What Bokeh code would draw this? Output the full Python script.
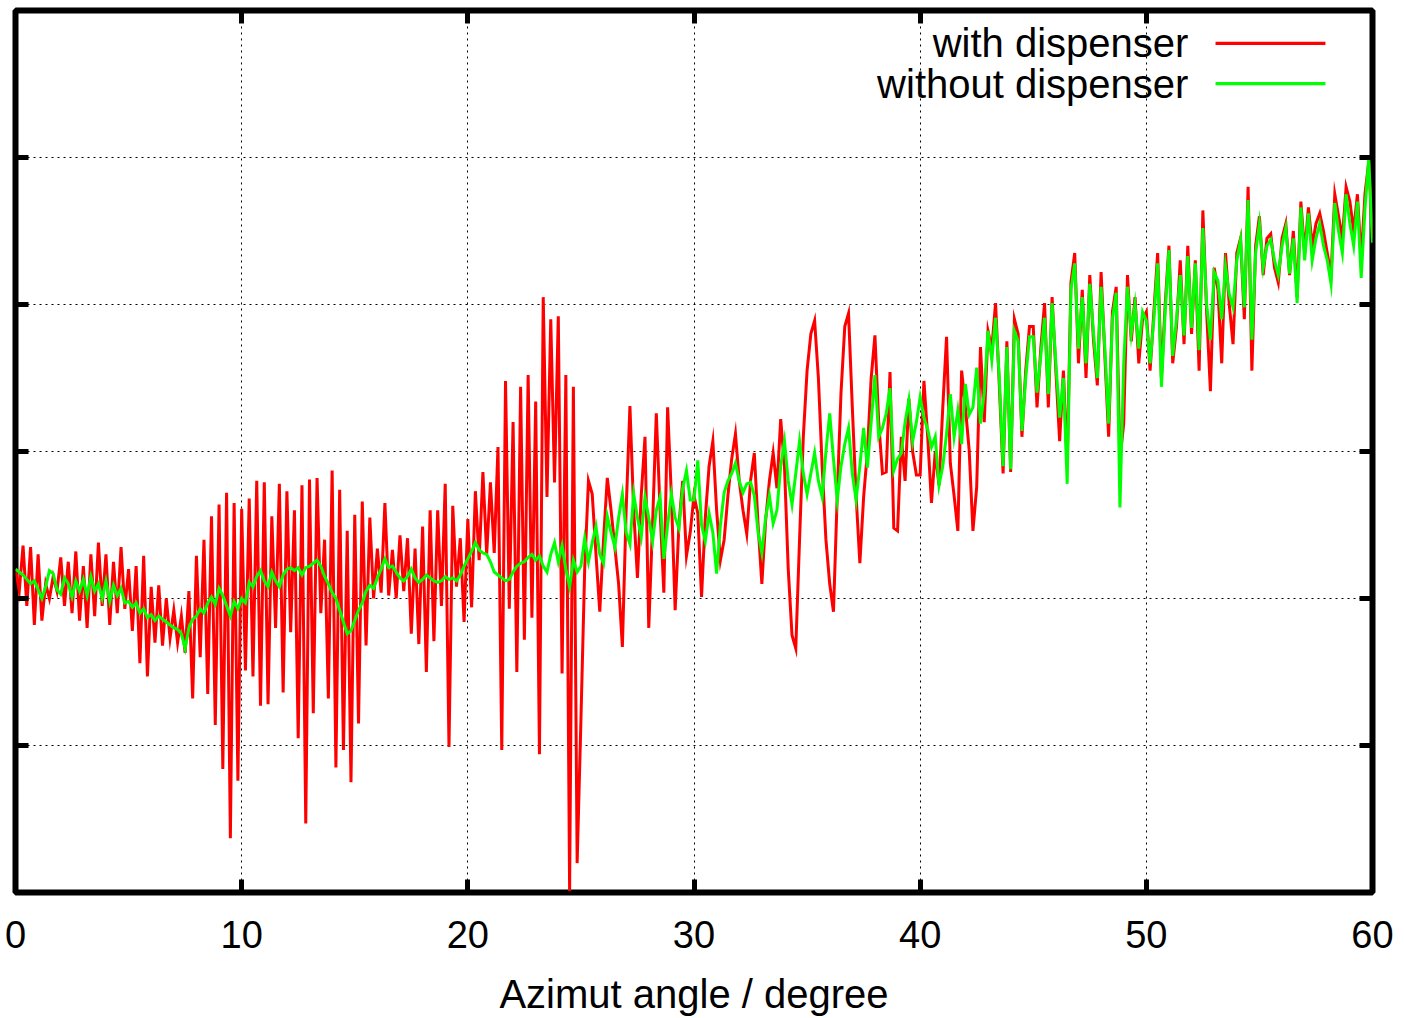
import numpy as np
from bokeh.plotting import figure
from bokeh.models import Range1d, LinearAxis, FixedTicker, Label, BoxAnnotation
from bokeh.embed import file_html
from bokeh.resources import INLINE

red_a = [2.20, 2.05, 2.36, 1.95, 2.35, 1.82, 2.30, 1.85, 2.10, 2.00, 2.15, 2.05, 2.28, 1.95, 2.25,
         1.90, 2.32, 1.85, 2.22, 1.80, 2.30, 1.88, 2.38, 1.95, 2.30, 1.82, 2.25, 1.90, 2.35, 1.93]
red_b = [2.20, 1.78, 2.22, 1.56, 2.29, 1.47, 2.08, 1.70, 2.09, 1.68, 2.00, 1.73, 1.92, 1.70, 1.88,
         1.63, 2.05, 1.32, 2.29, 1.60, 2.40, 1.35, 2.56, 1.14, 2.64, 0.84, 2.72, 0.37, 2.65, 0.76]
red_c = [2.61, 1.51, 2.68, 1.47, 2.80, 1.27, 2.79, 1.28, 2.56, 1.80, 2.78, 1.36, 2.73, 1.77, 2.60,
         1.05, 2.77, 0.47, 2.81, 1.22, 2.82, 1.90, 2.40, 1.32, 2.87, 0.85, 2.74, 0.97, 2.46, 0.75]
red_d = [2.57, 1.15, 2.66, 1.68, 2.55, 2.00, 2.34, 2.04, 2.65, 2.02, 2.33, 2.00, 2.43, 2.05, 2.41,
         1.76, 2.34, 1.69, 2.49, 1.50, 2.60, 1.71, 2.60, 1.95, 2.78, 0.99, 2.63, 2.08, 2.41, 1.84]
red_e = [2.54, 1.94, 2.73, 2.26, 2.86, 2.30, 2.79, 2.31, 3.03, 0.97, 3.48, 1.93, 3.20, 1.50, 3.44,
         1.72, 3.52, 1.87, 3.34, 0.94, 4.05, 2.69, 3.90, 2.79, 3.92, 1.49, 3.52, 0.01, 3.44, 0.20]
red_f = [1.17, 2.20, 2.80, 2.71, 2.30, 1.91, 2.40, 2.82, 2.60, 2.35, 2.10, 1.67, 2.60, 3.31, 2.60,
         2.14, 2.70, 3.10, 1.80, 2.50, 3.26, 2.60, 2.04, 3.30, 2.70, 1.92, 2.50, 2.80, 2.29, 2.45]
red_g = [2.70, 2.58, 2.01, 2.55, 2.90, 3.07, 2.60, 2.26, 2.40, 2.70, 2.95, 3.12, 2.80, 2.60, 2.44,
         2.80, 2.99, 2.50, 2.10, 2.53, 2.80, 2.99, 2.75, 3.22, 2.90, 2.20, 1.75, 1.66, 2.40, 3.10]
red_h = [3.55, 3.80, 3.89, 3.50, 2.90, 2.40, 2.10, 1.91, 2.70, 3.40, 3.85, 3.94, 3.30, 2.70, 2.24,
         2.69, 3.00, 3.50, 3.79, 3.20, 2.85, 2.86, 3.54, 2.48, 2.46, 3.10, 2.80, 3.36, 3.00, 2.84]
red_i = [2.84, 3.48, 3.10, 2.65, 3.00, 2.77, 3.30, 3.78, 2.92, 2.70, 2.46, 3.55, 3.30, 3.01, 2.46,
         2.76, 3.71, 3.20, 3.82, 3.70, 4.01, 3.45, 2.85, 3.75, 2.86, 3.90, 3.80, 3.10, 3.55, 3.85]
red_j = [3.85, 3.30, 3.70, 4.01, 3.30, 4.05, 3.55, 3.07, 3.55, 2.90, 4.15, 4.35, 3.60, 4.10, 3.50,
         4.20, 3.75, 3.45, 4.22, 3.65, 3.10, 3.95, 4.12, 2.95, 3.19, 4.20, 3.75, 4.05, 3.60, 3.90]
red_k = [3.95, 3.55, 3.95, 4.35, 3.50, 4.00, 4.40, 3.60, 3.85, 4.30, 3.73, 4.40, 3.80, 4.30, 3.55,
         4.64, 3.95, 3.41, 4.25, 4.10, 3.60, 4.35, 4.00, 3.73, 4.35, 4.45, 3.90, 4.80, 3.55, 4.40]
red_l = [4.60, 4.20, 4.45, 4.48, 4.25, 4.15, 4.45, 4.55, 4.20, 4.50, 4.05, 4.70, 4.35, 4.66, 4.40,
         4.55, 4.62, 4.50, 4.35, 4.20, 4.75, 4.60, 4.45, 4.80, 4.70, 4.50, 4.75, 4.30, 4.75, 4.97, 4.45]

green_a = [2.20, 2.18, 2.16, 2.13, 2.10, 2.12, 2.06, 2.00, 2.08, 2.19, 2.17, 2.06, 2.03, 2.14, 2.10,
           2.01, 2.12, 2.05, 2.13, 2.02, 2.15, 2.05, 2.10, 2.00, 2.12, 1.98, 2.09, 2.02, 2.07, 1.97]
green_b = [1.98, 1.94, 1.97, 1.90, 1.93, 1.87, 1.89, 1.85, 1.88, 1.86, 1.84, 1.82, 1.80, 1.79, 1.76,
           1.66, 1.80, 1.86, 1.88, 1.93, 1.90, 1.97, 2.01, 1.96, 2.07, 2.02, 1.95, 1.88, 1.98, 1.93]
green_c = [2.00, 1.97, 2.11, 2.08, 2.15, 2.19, 2.12, 2.08, 2.18, 2.12, 2.08, 2.16, 2.20, 2.21, 2.19,
           2.21, 2.16, 2.21, 2.22, 2.24, 2.26, 2.22, 2.15, 2.10, 2.04, 2.00, 1.92, 1.84, 1.76, 1.78]
green_d = [1.85, 1.92, 1.97, 2.05, 2.09, 2.07, 2.14, 2.20, 2.27, 2.21, 2.22, 2.18, 2.14, 2.12, 2.15,
           2.20, 2.14, 2.11, 2.13, 2.16, 2.14, 2.12, 2.11, 2.12, 2.15, 2.13, 2.14, 2.12, 2.16, 2.22]
green_e = [2.27, 2.32, 2.38, 2.33, 2.31, 2.30, 2.25, 2.18, 2.16, 2.14, 2.12, 2.13, 2.18, 2.22, 2.24,
           2.25, 2.28, 2.30, 2.26, 2.29, 2.22, 2.18, 2.30, 2.38, 2.25, 2.36, 2.20, 2.08, 2.26, 2.18]
green_f = [2.22, 2.41, 2.25, 2.38, 2.49, 2.30, 2.24, 2.56, 2.45, 2.35, 2.55, 2.71, 2.45, 2.37, 2.71,
           2.55, 2.42, 2.69, 2.55, 2.39, 2.60, 2.69, 2.27, 2.50, 2.71, 2.55, 2.48, 2.75, 2.87, 2.67]
green_g = [2.67, 2.94, 2.50, 2.39, 2.58, 2.45, 2.17, 2.50, 2.72, 2.80, 2.85, 2.92, 2.80, 2.72, 2.78,
           2.79, 2.70, 2.45, 2.31, 2.55, 2.70, 2.51, 2.60, 2.90, 3.07, 2.80, 2.64, 2.85, 3.07, 2.85]
green_h = [2.71, 2.85, 2.99, 2.80, 2.69, 3.00, 3.26, 2.95, 2.67, 2.90, 3.05, 3.16, 2.85, 2.67, 2.90,
           3.16, 2.89, 3.20, 3.52, 3.10, 3.16, 3.26, 3.43, 2.87, 2.95, 2.99, 3.20, 3.35, 3.07, 3.20]
green_i = [3.37, 3.23, 3.15, 3.03, 3.10, 2.77, 2.90, 3.12, 3.39, 3.10, 3.28, 3.05, 3.46, 3.25, 3.30,
           3.57, 3.19, 3.40, 3.82, 3.62, 3.91, 3.50, 2.90, 3.71, 2.88, 3.82, 3.75, 3.14, 3.50, 3.78]
green_j = [3.78, 3.40, 3.65, 3.91, 3.39, 4.01, 3.60, 3.23, 3.50, 2.78, 4.10, 4.28, 3.70, 4.05, 3.60,
           4.14, 3.80, 3.50, 4.12, 3.70, 3.19, 3.90, 4.08, 2.62, 3.60, 4.12, 3.80, 4.00, 3.70, 3.95]
green_k = [3.89, 3.60, 3.90, 4.28, 3.44, 3.95, 4.37, 3.65, 3.90, 4.20, 3.79, 4.33, 3.84, 4.28, 3.69,
           4.52, 4.00, 3.76, 4.22, 4.16, 3.90, 4.26, 4.07, 3.98, 4.30, 4.44, 3.98, 4.71, 3.76, 4.35]
green_l = [4.55, 4.25, 4.40, 4.44, 4.30, 4.20, 4.40, 4.52, 4.21, 4.45, 4.01, 4.66, 4.30, 4.62, 4.30,
           4.45, 4.55, 4.40, 4.30, 4.14, 4.69, 4.50, 4.35, 4.75, 4.55, 4.40, 4.70, 4.18, 4.65, 4.99, 4.42]

x_ticks = [0, 10, 20, 30, 40, 50, 60]
y_ticks = [1, 2, 3, 4, 5]
series_labels = ["with dispenser", "without dispenser"]

red = (red_a + red_b + red_c + red_d + red_e + red_f + red_g + red_h + red_i + red_j + red_k + red_l)
green = (green_a + green_b + green_c + green_d + green_e + green_f + green_g + green_h + green_i
         + green_j + green_k + green_l)
x_red = np.linspace(0, 60, len(red))
x_green = np.linspace(0, 60, len(green))

FONT = "Liberation Sans"

p = figure(width=1404, height=1018, output_backend="svg", toolbar_location=None,
           x_range=Range1d(0, 60), y_range=Range1d(0, 6),
           min_border_left=15, min_border_right=32, min_border_top=10, min_border_bottom=126)
p.background_fill_color = "white"
p.border_fill_color = "white"
p.outline_line_color = "black"
p.outline_line_width = 6

# grids (dotted)
for g in (p.xgrid, p.ygrid):
    g.grid_line_color = "black"
    g.grid_line_dash = "2 4"
    g.grid_line_width = 1
    g.grid_line_alpha = 1.0

# bottom axis
xa = p.xaxis[0]
xa.ticker = FixedTicker(ticks=x_ticks)
xa.axis_line_color = None
xa.major_tick_in = 13
xa.major_tick_out = 0
xa.major_tick_line_width = 5
xa.minor_tick_line_color = None
xa.major_label_text_font = FONT
xa.major_label_text_font_size = "38px"
xa.major_label_text_color = "black"
xa.major_label_standoff = 28
xa.axis_label = "Azimut angle / degree"
xa.axis_label_text_font = FONT
xa.axis_label_text_font_size = "40px"
xa.axis_label_text_font_style = "normal"
xa.axis_label_text_color = "black"
xa.axis_label_standoff = 21

# the other three sides carry tick marks only, no labels
y_blank = {t: "" for t in y_ticks}
x_blank = {t: "" for t in x_ticks}

ya = p.yaxis[0]
ya.ticker = FixedTicker(ticks=y_ticks)
ya.axis_line_color = None
ya.major_tick_in = 13
ya.major_tick_out = 0
ya.major_tick_line_width = 5
ya.minor_tick_line_color = None
ya.major_label_overrides = y_blank
ya.major_label_text_font_size = "10px"
ya.major_label_standoff = 0

top = LinearAxis(ticker=FixedTicker(ticks=x_ticks), axis_line_color=None,
                 major_tick_in=13, major_tick_out=0, major_tick_line_width=5,
                 minor_tick_line_color=None, major_label_overrides=x_blank,
                 major_label_text_font_size="10px", major_label_standoff=0)
p.add_layout(top, "above")
right = LinearAxis(ticker=FixedTicker(ticks=y_ticks), axis_line_color=None,
                   major_tick_in=13, major_tick_out=0, major_tick_line_width=5,
                   minor_tick_line_color=None, major_label_overrides=y_blank,
                   major_label_text_font_size="10px", major_label_standoff=0)
p.add_layout(right, "right")

p.line(x_red, red, line_color="#ff0000", line_width=3, line_join="miter")
p.line(x_green, green, line_color="#00ff00", line_width=3, line_join="miter")

# legend (text left of the sample line, as in the reference)
leg_text_x = 51.86
leg_line = (53.06, 57.92)
leg_rows = [5.776, 5.503]
leg_colors = ["#ff0000", "#00ff00"]
for lab, yy, col in zip(series_labels, leg_rows, leg_colors):
    p.add_layout(Label(x=leg_text_x, y=yy, text=lab, text_align="right", text_baseline="middle",
                       text_font=FONT, text_font_size="40px", text_color="black"))
    p.add_layout(BoxAnnotation(left=leg_line[0], right=leg_line[1], bottom=yy - 0.011, top=yy + 0.011,
                               fill_color=col, fill_alpha=1.0, line_color=None, level="overlay"))

open("out.html", "w").write(file_html(p, INLINE))
